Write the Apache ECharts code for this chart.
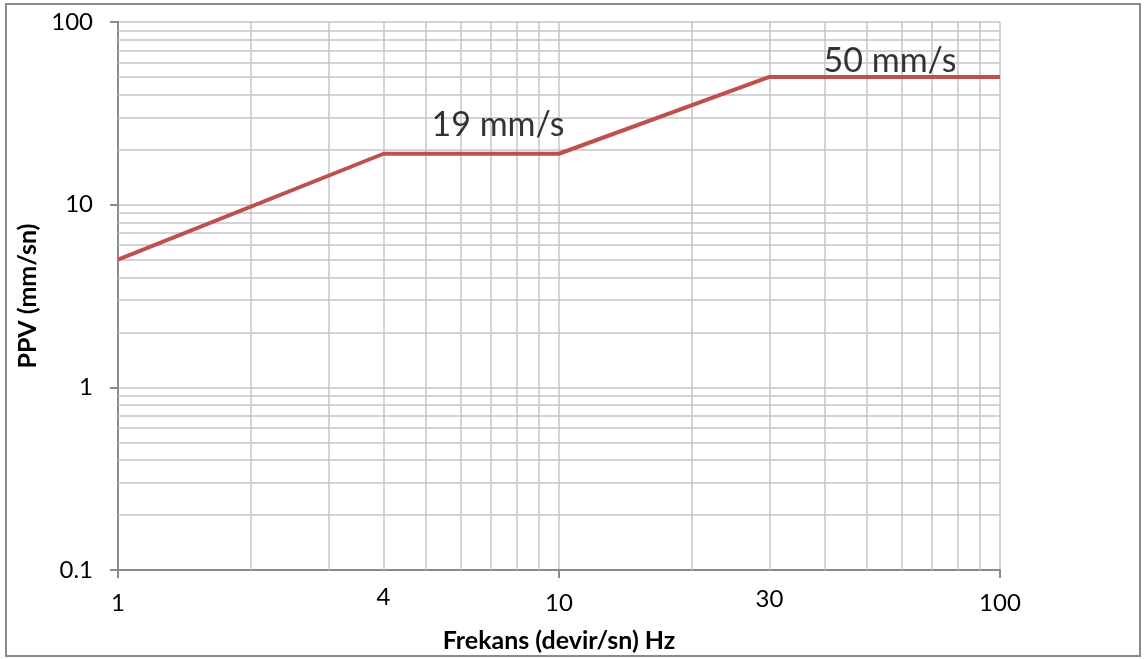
<!DOCTYPE html>
<html>
<head>
<meta charset="utf-8">
<script src="https://cdn.jsdelivr.net/npm/echarts@6/dist/echarts.min.js"></script>
<style>
html,body{margin:0;padding:0;background:#fff;}
#chart{width:1145px;height:659px;}
</style>
</head>
<body>
<div id="chart"></div>
<script>
// Data
const frequencies = [1, 4, 10, 30, 100];
const ppvLimits = [5, 19, 19, 50, 50];
const xLabelValues = [1, 4, 10, 30, 100];
const xMajorTicks = [1, 10, 100];
const xMinorGrid = [2, 3, 4, 5, 6, 7, 8, 9, 20, 30, 40, 50, 60, 70, 80, 90];
const yMinorGrid = [0.2, 0.3, 0.4, 0.5, 0.6, 0.7, 0.8, 0.9, 2, 3, 4, 5, 6, 7, 8, 9, 20, 30, 40, 50, 60, 70, 80, 90];
const annotationTexts = ['19 mm/s', '50 mm/s'];
const annotationX = [7.27, 56.3];
const annotationY = [19, 50];
const xTitle = 'Frekans (devir/sn) Hz';
const yTitle = 'PPV (mm/sn)';

const FONT = 'Lato, "Open Sans", sans-serif';
const gridColor = '#c4c4c4';
const axisColor = '#8a8a8a';

const chart = echarts.init(document.getElementById('chart'), null, {renderer: 'canvas'});

const minorLines = [];
xMinorGrid.forEach(v => minorLines.push({xAxis: v}));
yMinorGrid.forEach(v => minorLines.push({yAxis: v}));

const option = {
  backgroundColor: '#fff',
  animation: false,
  graphic: [{
    type: 'rect',
    shape: {x: 6, y: 4, width: 1134, height: 652},
    style: {fill: 'none', stroke: '#8a8a8a', lineWidth: 2},
    z: -1, silent: true
  }],
  grid: {left: 118, right: 145, top: 22, bottom: 89},
  xAxis: {
    type: 'log',
    logBase: 10,
    min: 1,
    max: 100,
    name: xTitle,
    nameLocation: 'middle',
    nameGap: 58,
    nameTextStyle: {fontFamily: FONT, fontSize: 25, fontWeight: 'bold', color: '#000'},
    axisLine: {show: true, onZero: false, lineStyle: {color: axisColor, width: 2}},
    axisTick: {show: true, length: 8, customValues: xMajorTicks, lineStyle: {color: axisColor, width: 2}},
    axisLabel: {
      customValues: xLabelValues,
      margin: 18,
      formatter: function (v) {
        if (v === 4) return '{a|4}';
        if (v === 30) return '{b|30}';
        return '{n|' + v + '}';
      },
      rich: {
        n: {fontFamily: FONT, fontSize: 24, color: '#000', lineHeight: 30},
        a: {fontFamily: FONT, fontSize: 24, color: '#000', lineHeight: 18},
        b: {fontFamily: FONT, fontSize: 24, color: '#000', lineHeight: 22}
      }
    },
    splitLine: {show: true, lineStyle: {color: gridColor, width: 1.5}},
    minorTick: {show: false},
    minorSplitLine: {show: false}
  },
  yAxis: {
    type: 'log',
    logBase: 10,
    min: 0.1,
    max: 100,
    name: yTitle,
    nameLocation: 'middle',
    nameGap: 75,
    nameTextStyle: {fontFamily: FONT, fontSize: 25, fontWeight: 'bold', color: '#000'},
    axisLine: {show: true, onZero: false, lineStyle: {color: axisColor, width: 2}},
    axisTick: {show: true, length: 8, lineStyle: {color: axisColor, width: 2}},
    axisLabel: {
      margin: 25,
      fontFamily: FONT, fontSize: 24, color: '#000',
      formatter: function (v) { return String(v); }
    },
    splitLine: {show: true, lineStyle: {color: gridColor, width: 1.5}}
  },
  series: [
    {
      type: 'line',
      data: frequencies.map((f, i) => [f, ppvLimits[i]]),
      symbol: 'none',
      lineStyle: {color: '#C0504D', width: 4},
      z: 5,
      markLine: {
        silent: true,
        symbol: ['none', 'none'],
        label: {show: false},
        lineStyle: {color: gridColor, width: 1.5, type: 'solid'},
        data: minorLines,
        z: 1
      }
    },
    {
      type: 'scatter',
      symbolSize: 0,
      silent: true,
      z: 6,
      data: annotationTexts.map((t, i) => ({value: [annotationX[i], annotationY[i]], name: t})),
      label: {
        show: true,
        position: 'inside',
        formatter: p => p.name,
        fontFamily: FONT,
        fontSize: 34,
        color: '#000'
      },
      labelLayout: function (params) {
        return params.dataIndex === 0 ? {dy: -29} : {dy: -16};
      }
    }
  ]
};
chart.setOption(option);
</script>
</body>
</html>
